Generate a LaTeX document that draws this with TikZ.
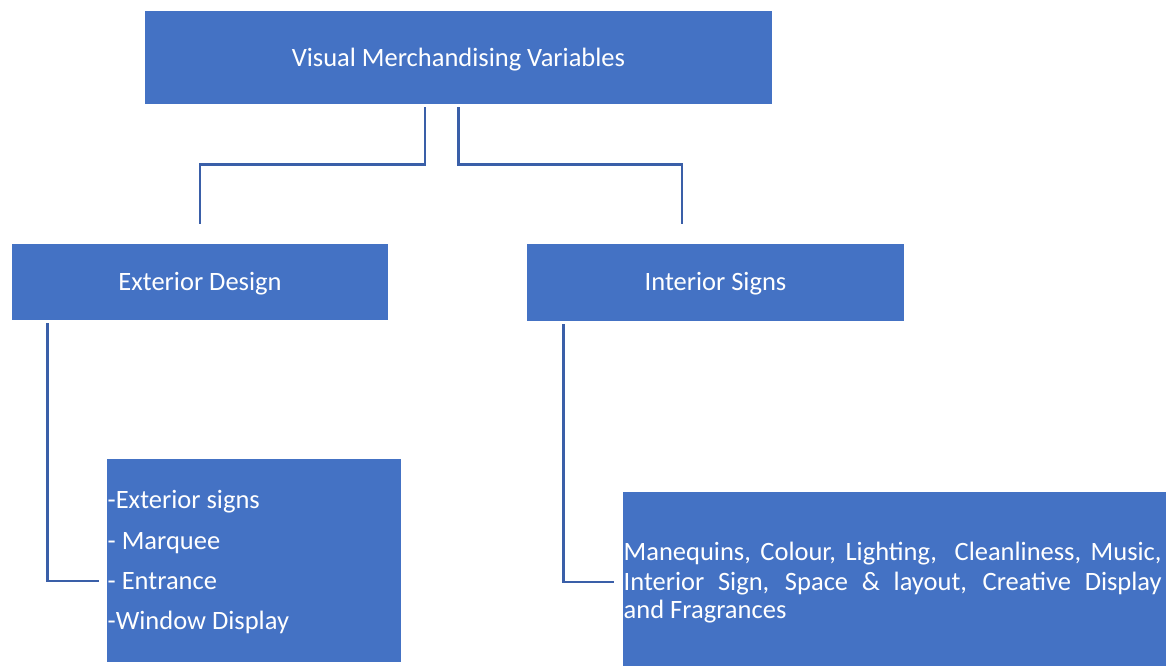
\documentclass[tikz,border=0pt]{standalone}
\usepackage{fontspec}
\setmainfont{Carlito}
\definecolor{boxblue}{HTML}{4472C4}
\definecolor{lineblue}{HTML}{3A5FA8}
\begin{document}
\begin{tikzpicture}[x=1pt,y=-1pt,
  box/.style={fill=boxblue, draw=none, inner sep=0pt},
  ctxt/.style={inner sep=0pt, text=white,
    font=\fontsize{26.5}{29.5}\selectfont},
  txt/.style={anchor=base west, inner sep=0pt, text=white,
    font=\fontsize{26.5}{29.5}\selectfont},
  conn/.style={draw=lineblue, line width=2.7pt}]
\useasboundingbox[fill=white] (0,0) rectangle (1166,666);
\node[box, minimum width=627pt, minimum height=93pt] (top) at (458.5,57.5) {};
\node[box, minimum width=376pt, minimum height=76pt] (ext) at (200,282) {};
\node[box, minimum width=377pt, minimum height=77pt] (int) at (715.5,282.5) {};
\node[box, minimum width=294pt, minimum height=203pt] (extlist) at (254,560.5) {};
\node[box, minimum width=543pt, minimum height=174pt] (intlist) at (894.5,579) {};
% box titles
\node[ctxt] (toptxt) at ([yshift=-2pt]top.center) {Visual Merchandising Variables};
\node[ctxt] (exttxt) at ([yshift=-2pt]ext.center) {Exterior Design};
\node[ctxt] (inttxt) at ([yshift=-1.5pt]int.center) {Interior Signs};
% list text
\node[txt] (e1) at (107.5,508.5) {-Exterior signs};
\node[txt] (e2) at (107.5,549) {- Marquee};
\node[txt] (e3) at (107.5,589) {- Entrance};
\node[txt] (e4) at (107.5,629.5) {-Window Display};
\node[txt] (i1) at (623.5,560) {\makebox[538pt][s]{Manequins, Colour, Lighting,\ \ Cleanliness, Music,}};
\node[txt] (i2) at (623.5,590) {\makebox[538pt][s]{Interior Sign, Space \& layout, Creative Display}};
\node[txt] (i3) at (623.5,618) {and Fragrances};
% connectors
\draw[conn] ([xshift=-33.5pt,yshift=-3pt]top.south) -- ++(0,57) -| ([yshift=20pt]ext.north);
\draw[conn] ([yshift=-3pt]top.south) -- ++(0,57) -| ([xshift=-33.5pt,yshift=20pt]int.north);
\draw[conn] ([xshift=36pt,yshift=-3pt]ext.south west) |- ([xshift=-8pt,yshift=-20.5pt]extlist.west);
\draw[conn] ([xshift=37pt,yshift=-3pt]int.south west) |- ([xshift=-9pt,yshift=-3pt]intlist.west);
\end{tikzpicture}
\end{document}
